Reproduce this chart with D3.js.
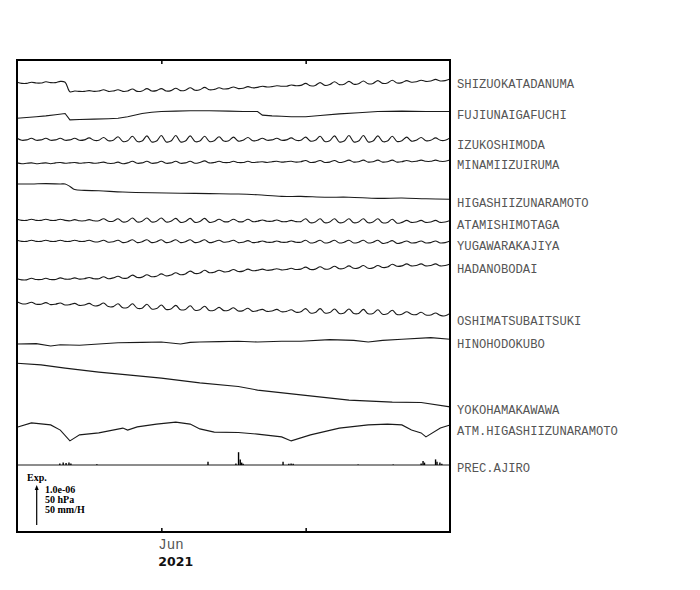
<!DOCTYPE html>
<html>
<head>
  <meta charset="UTF-8">
  <title>strain</title>
  <style>
  body, html, svg{
    padding: 0;
    margin: 0;
  }
  body{
    background: #fff;
  }
  svg{
    display: block;
  }
  </style>
</head>
<body>
  <script src="https://cdn.jsdelivr.net/npm/d3@7"></script>
  <script type="text/javascript">
  // day numbers counted from 2021-05-02 UTC, one sample a day
  var days = d3.range(0, 91);

  // strain, units of 1e-8, expansion up
  var shizuoka = [2,-1,-1,2,0,0,3,1,1,4,2,
    -22,-20,-21,-21,-19,-21,-20,-17,-21,-20,-17,
    -21,-20,-15,-21,-20,-14,-20,-19,-14,-20,-19,-13,-19,-18,-12,-18,-17,-11,-17,-16,
    -12,-15,-14,-10,-14,-13,-9,-12,
    -11,-8,-10,-9,-7,-8,-8,-5,-7,-6,
    -1,-7,-6,1,-6,-4,3,-4,-3,4,-3,-2,5,-2,-1,6,-1,0,7,0,1,
    6,2,3,7,4,5,9,5,6,10];
  var izu = [3,-2,-1,3,-2,-1,3,-2,-1,3,-2,-1,3,-2,-1,4,-2,-2,
    5,-3,-2,7,
    -5,-3,8,-5,-4,9,-6,-4,10,-6,-4,10,-6,-4,9,-5,-4,8,-5,-3,
    7,-4,-3,6,-4,-2,5,-3,
    -2,3,-2,-1,3,-2,-1,4,-2,-2,
    6,-4,-2,8,-5,-3,9,-6,-4,10,-6,-4,10,-6,-4,9,-5,-4,8,-5,-3,
    6,-4,-2,5,-3,-2,4,-2,-2,4];
  var minami = [1,-1,0,1,-1,0,1,-1,1,2,0,1,2,0,1,2,0,1,
    3,0,0,3,
    -1,1,5,0,1,5,0,1,5,0,1,5,0,1,5,0,2,6,1,2,
    5,2,2,5,2,2,5,2,
    3,4,2,4,5,3,4,5,3,4,
    7,2,3,7,2,3,7,2,4,8,3,4,8,3,4,8,3,4,8,3,4,
    7,4,5,8,5,5,8,5,5,8];
  var atami = [2,-1,-1,2,-1,-1,2,-1,-1,2,-1,-2,1,-2,-2,1,-2,-2,
    3,-3,-3,3,
    -5,-3,5,-5,-3,5,-5,-3,5,-5,-3,4,-6,-4,4,-6,-4,4,-6,-4,
    2,-4,-4,2,-4,-4,2,-4,
    -3,0,-3,-3,0,-4,-4,-1,-4,-4,
    3,-7,-5,3,-7,-5,3,-7,-5,3,-7,-5,3,-7,-5,3,-7,-6,2,-8,-6,
    -1,-6,-5,-1,-6,-5,-1,-6,-5,-1];
  var yugawara = [2,-1,-1,2,-1,-1,2,-1,-1,2,-1,-1,2,-1,-1,2,-2,-2,
    2,-3,-2,2,
    -4,-2,3,-4,-2,3,-4,-2,3,-4,-2,3,-4,-2,3,-4,-2,3,-4,-2,
    2,-3,-2,2,-4,-3,1,-4,
    -3,0,-3,-3,0,-3,-3,0,-3,-3,
    2,-5,-3,2,-5,-3,2,-5,-3,2,-5,-3,2,-5,-3,2,-6,-4,1,-6,-4,
    0,-5,-4,0,-5,-4,0,-5,-4,0];
  var hadano = [2,-1,-1,3,0,0,3,0,0,4,1,1,4,1,2,5,2,2,
    7,2,4,8,
    3,4,11,5,6,12,7,8,14,9,11,17,12,14,21,15,16,23,17,18,
    23,19,20,25,20,21,26,22,
    23,26,23,24,27,24,25,28,25,26,
    31,25,26,32,26,27,33,27,28,34,28,29,35,28,29,35,30,31,38,33,34,
    39,34,35,39,34,35,39,34,35,39];
  var oshima = [3,-2,-2,2,-3,-3,1,-4,-3,0,-5,-4,-1,-6,-5,-1,-7,-6,
    0,-9,-9,-2,
    -12,-11,-2,-13,-13,-3,-15,-14,-5,-16,-15,-6,-17,-16,-7,-18,-17,-8,-19,-18,
    -11,-19,-18,-12,-20,-19,-13,-21,
    -19,-16,-21,-20,-16,-22,-21,-17,-23,-22,
    -14,-25,-24,-14,-25,-24,-15,-26,-25,-15,-26,-26,-16,-27,-26,-17,-28,-27,-18,-29,-28,
    -22,-28,-29,-23,-30,-30,-25,-31,-32,-26];

  // smoother traces, read at their turning points
  var fujiDays = [0,2,4,6,8,10,11,13,16,19,21,23,26,28,30,33,36,40,44,47,50,51,53,55,57,60,63,67,71,75,80,85,90];
  var fujiVals = [0,2,4,6,9,12,-4,-3,-2,-1,0,4,12,15,17,18,19,19,18,17,17,8,6,5,4,4,7,11,14,17,18,17,17];
  var higashiDays = [0,3,6,9,10,11,12,14,17,22,28,34,40,46,50,55,59,64,69,75,80,85,90];
  var higashiVals = [0,0,1,0,0,-6,-14,-16,-17,-20,-22,-23,-24,-25,-27,-31,-31,-33,-33,-36,-35,-37,-38];
  var hinoDays = [0,4,7,9,13,17,21,26,30,34,36,38,42,46,50,55,59,65,70,73,76,80,86,90];
  var hinoVals = [0,1,-5,-2,-3,0,3,4,5,0,4,5,6,7,5,7,7,11,9,5,9,12,16,12];
  var yokoDays = [0,5,10,17,23,30,38,46,50,59,69,78,84,90];
  var yokoVals = [0,-4,-12,-22,-29,-37,-49,-58,-67,-79,-92,-97,-98,-109];

  // pressure, hPa
  var atmDays = [0,3,7,9,11,13,17,22,23,25,29,33,36,38,41,46,50,55,57,61,67,73,77,80,82,84,85,88,90];
  var atmVals = [1006,1011.5,1009,1002.5,989,996.5,999,1005,1002.5,1006.5,1010,1012.5,1010,1004,1000,
    999.5,997.5,994,989,996.5,1005,1009,1010,1009,1002.5,999,994,1005,1009];

  // rain, mm/H
  var precDays = [8.9,9.6,10.2,10.8,11.2,16.6,39.7,45.5,46.05,46.4,46.7,47,55.3,56.5,56.97,57.4,70.9,78.2,84,84.4,84.7,87,87.3,87.9,88.3];
  var precVals = [2,3,2.5,3,2,1,4,2,16,7,3,1.5,4,1.5,2,1.5,0.5,0.5,2,5,3,7,4,3,1.5];

  var width = 700;
  var height = 590;
  var plotL = 17, plotR = 450, plotT = 60, plotB = 532;

  var svg = d3.select('body')
    .append('svg')
    .attr('width', width)
    .attr('height', height);

  var t0 = Date.UTC(2021, 4, 2);
  function toDate(d){ return new Date(t0 + d * 864e5); }

  var x = d3.scaleUtc()
    .domain([toDate(0), toDate(90)])
    .range([plotL, plotR]);

  // one legend arrow = 1.0e-06 = 50 hPa = 50 mm/H
  var arrowLen = 40;
  var strain = d3.scaleLinear().domain([0, 100]).range([0, arrowLen]);
  var hpa = d3.scaleLinear().domain([0, 50]).range([0, arrowLen]);
  var mmh = d3.scaleLinear().domain([0, 50]).range([0, arrowLen]);

  // y0 = where the reference value sits, ly = label centre
  var rows = [
    {name: 'SHIZUOKATADANUMA', t: days, v: shizuoka, s: strain, ref: 0, y0: 83, ly: 84, smooth: true},
    {name: 'FUJIUNAIGAFUCHI', t: fujiDays, v: fujiVals, s: strain, ref: 0, y0: 118.3, ly: 115},
    {name: 'IZUKOSHIMODA', t: days, v: izu, s: strain, ref: 0, y0: 139.5, ly: 145, smooth: true},
    {name: 'MINAMIIZUIRUMA', t: days, v: minami, s: strain, ref: 0, y0: 163.3, ly: 165, smooth: true},
    {name: 'HIGASHIIZUNARAMOTO', t: higashiDays, v: higashiVals, s: strain, ref: 0, y0: 184, ly: 203, smooth: true},
    {name: 'ATAMISHIMOTAGA', t: days, v: atami, s: strain, ref: 0, y0: 220, ly: 225, smooth: true},
    {name: 'YUGAWARAKAJIYA', t: days, v: yugawara, s: strain, ref: 0, y0: 241, ly: 246, smooth: true},
    {name: 'HADANOBODAI', t: days, v: hadano, s: strain, ref: 0, y0: 279.5, ly: 269, smooth: true},
    {name: 'OSHIMATSUBAITSUKI', t: days, v: oshima, s: strain, ref: 0, y0: 303, ly: 321, smooth: true},
    {name: 'HINOHODOKUBO', t: hinoDays, v: hinoVals, s: strain, ref: 0, y0: 344, ly: 344},
    {name: 'YOKOHAMAKAWAWA', t: yokoDays, v: yokoVals, s: strain, ref: 0, y0: 363.3, ly: 410},
    {name: 'ATM.HIGASHIIZUNARAMOTO', t: atmDays, v: atmVals, s: hpa, ref: 1006, y0: 427.3, ly: 431}
  ];
  var precY = 465, precLy = 468;

  //traces
  rows.forEach(function(r){
    var pts = r.t.map(function(d, i){ return [d, r.v[i]]; });
    var line = d3.line()
      .x(function(d){ return x(toDate(d[0])); })
      .y(function(d){ return r.y0 - r.s(d[1] - r.ref); })
      .curve(r.smooth ? d3.curveCatmullRom.alpha(0.5) : d3.curveLinear);
    svg.append('path')
      .datum(pts)
      .attr('d', line)
      .attr('fill', 'none')
      .attr('stroke', '#1a1a1a')
      .attr('stroke-width', 1.1);
  });

  //rain
  svg.append('line')
    .attr('x1', plotL).attr('x2', plotR)
    .attr('y1', precY).attr('y2', precY)
    .attr('stroke', '#1a1a1a')
    .attr('stroke-width', 1);

  svg.append('g')
    .selectAll('line')
    .data(precDays)
    .enter()
    .append('line')
    .attr('x1', function(d){ return x(toDate(d)); })
    .attr('x2', function(d){ return x(toDate(d)); })
    .attr('y1', precY)
    .attr('y2', function(d, i){ return precY - mmh(precVals[i]); })
    .attr('stroke', '#000')
    .attr('stroke-width', 1.4);

  //station names
  var names = rows.map(function(r){ return {name: r.name, y: r.ly}; });
  names.push({name: 'PREC.AJIRO', y: precLy});
  svg.append('g')
    .selectAll('text')
    .data(names)
    .enter()
    .append('text')
    .attr('x', plotR + 7)
    .attr('y', function(d){ return d.y; })
    .attr('dy', '0.32em')
    .attr('font-family', '"Liberation Mono", monospace')
    .attr('font-size', 12.2)
    .attr('fill', '#555')
    .text(function(d){ return d.name; });

  //frame and month ticks
  var months = [new Date(Date.UTC(2021, 5, 1)), new Date(Date.UTC(2021, 6, 1))];
  var axB = svg.append('g')
    .attr('transform', 'translate(0,' + plotB + ')')
    .call(d3.axisBottom(x).tickValues(months).tickSize(-4).tickFormat(''));
  var axT = svg.append('g')
    .attr('transform', 'translate(0,' + plotT + ')')
    .call(d3.axisTop(x).tickValues(months).tickSize(-4).tickFormat(''));
  [axB, axT].forEach(function(a){
    a.select('.domain').remove();
    a.selectAll('.tick line').attr('stroke', '#000').attr('stroke-width', 1.5);
  });

  svg.append('rect')
    .attr('x', plotL).attr('y', plotT)
    .attr('width', plotR - plotL).attr('height', plotB - plotT)
    .attr('fill', 'none')
    .attr('stroke', '#000')
    .attr('stroke-width', 2);

  svg.append('text')
    .attr('x', x(months[0]) - 3)
    .attr('y', 549)
    .attr('font-family', '"Liberation Mono", monospace')
    .attr('font-size', 14)
    .attr('fill', '#555')
    .text(d3.utcFormat('%b')(months[0]));
  svg.append('text')
    .attr('x', x(months[0]) - 3)
    .attr('y', 566)
    .attr('font-family', '"DejaVu Sans", sans-serif')
    .attr('font-weight', 'bold')
    .attr('font-size', 12.5)
    .attr('fill', '#111')
    .text('2021');

  //scale legend
  var lg = svg.append('g')
    .attr('font-family', '"Liberation Serif", serif')
    .attr('font-weight', 'bold')
    .attr('font-size', 10)
    .attr('fill', '#000');
  lg.append('text').attr('x', 27).attr('y', 481).text('Exp.');
  lg.append('text').attr('x', 45).attr('y', 493).text('1.0e-06');
  lg.append('text').attr('x', 45).attr('y', 503).text('50 hPa');
  lg.append('text').attr('x', 45).attr('y', 513).text('50 mm/H');

  var ax = 36.7, ay = 525;
  lg.append('line')
    .attr('x1', ax).attr('x2', ax)
    .attr('y1', ay).attr('y2', ay - arrowLen + 4)
    .attr('stroke', '#000')
    .attr('stroke-width', 1.2);
  lg.append('path')
    .attr('d', 'M' + ax + ',' + (ay - arrowLen) + 'l-2,5h4z')
    .attr('fill', '#000');
  </script>
</body>
</html>
